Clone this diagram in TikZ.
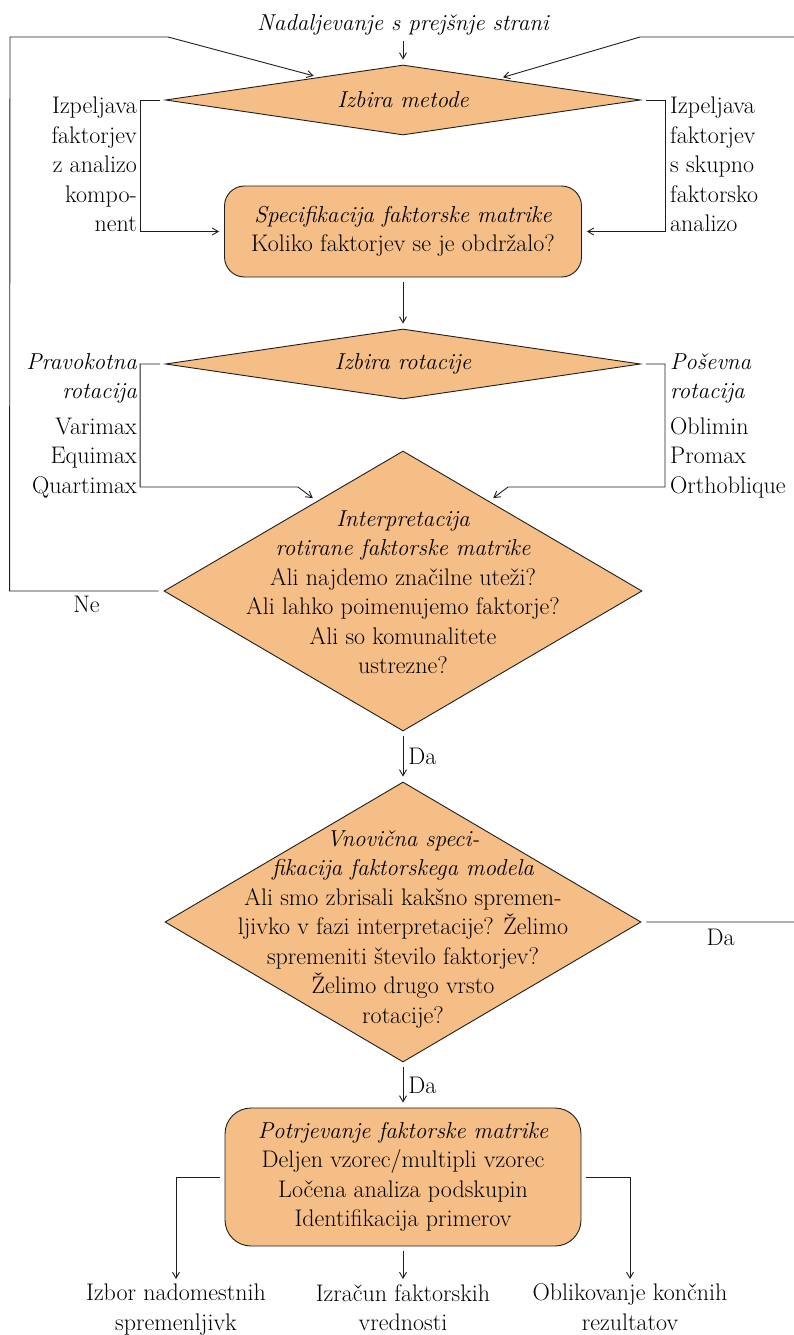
\documentclass[tikz,border=0pt]{standalone}
\usepackage{fontspec}
\usepackage{tikz}
\usetikzlibrary{positioning,arrows.meta,calc,shapes.geometric}
\definecolor{orng}{HTML}{F5BE86}
\definecolor{lin}{HTML}{1E1E1E}
\newcommand{\fs}{\fontsize{24}{29.5}\selectfont}
\newcommand{\ix}[1]{{\fontsize{23}{29.5}\selectfont\itshape #1}}

\tikzset{
  txt/.style={font=\fs, inner sep=0pt},
  dia/.style={diamond, draw=lin, fill=orng, line width=0.9pt, inner sep=0pt, aspect=6.8},
  bigdia/.style={diamond, draw=lin, fill=orng, line width=0.9pt, inner sep=0pt},
  rbox/.style={rectangle, rounded corners=20pt, draw=lin, fill=orng, line width=0.9pt, align=center, inner sep=0pt},
  con/.style={draw=lin, line width=0.9pt, shorten <=5pt},
  arr/.style={con, -{Straight Barb[length=6pt,width=7pt]}, shorten >=5pt},
}

\begin{document}
\begin{tikzpicture}[x=1pt,y=-1pt]
  \useasboundingbox (0,0) rectangle (794,1335);

  % main column
  \node[txt] (start) at (403,25) {\ix{Nadaljevanje s prejšnje strani}};
  \node[dia, txt, minimum width=475, minimum height=70] (metode) at (403,100) {\ix{Izbira metode}};
  \node[rbox, txt, minimum width=357, minimum height=91] (spec) at (403,231.5)
    {\ix{Specifikacija faktorske matrike}\\Koliko faktorjev se je obdržalo?};
  \node[dia, txt, minimum width=475, minimum height=70] (rotac) at (403,364) {\ix{Izbira rotacije}};
  \node[bigdia, minimum width=478, minimum height=280] (interp) at (403,591) {};
  \node[txt, align=center] (interp-t) at (403,592)
    {\ix{Interpretacija}\\\ix{rotirane faktorske matrike}\\Ali najdemo značilne uteži?\\Ali lahko poimenujemo faktorje?\\Ali so komunalitete\\ustrezne?};
  \node[bigdia, minimum width=476, minimum height=280] (respec) at (403,922) {};
  \node[txt, align=center] (respec-t) at (403,929)
    {\ix{Vnovična speci-}\\\ix{fikacija faktorskega modela}\\Ali smo zbrisali kakšno spremen-\\ljivko v fazi interpretacije? Želimo\\spremeniti število faktorjev?\\Želimo drugo vrsto\\rotacije?};
  \node[rbox, txt, rounded corners=26pt, minimum width=356, minimum height=138] (potrj) at (403,1177)
    {\ix{Potrjevanje faktorske matrike}\\Deljen vzorec/multipli vzorec\\Ločena analiza podskupin\\Identifikacija primerov};

  % side labels
  \node[txt, align=right, anchor=north east] (pca) at (137,97) {Izpeljava\\faktorjev\\z analizo\\kompo-\\nent};
  \node[txt, align=left, anchor=north west] (fa) at (670,97) {Izpeljava\\faktorjev\\s skupno\\faktorsko\\analizo};
  \node[txt, align=right, anchor=north east] (orto) at (137,353)
    {\ix{Pravokotna}\\\ix{rotacija}\\[6pt]Varimax\\Equimax\\Quartimax};
  \node[txt, align=left, anchor=north west] (posev) at (670,353)
    {\ix{Poševna}\\\ix{rotacija}\\[6pt]Oblimin\\Promax\\Orthoblique};

  % outputs
  \node[txt, align=center, anchor=north] (izbor) at (176,1284) {Izbor nadomestnih\\spremenljivk};
  \node[txt, align=center, anchor=north] (izracun) at (403,1284) {Izračun faktorskih\\vrednosti};
  \node[txt, align=center, anchor=north] (oblik) at (630,1284) {Oblikovanje končnih\\rezultatov};

  % connectors
  \draw[arr] (start.south) -- (metode.north);
  \draw[arr] (metode.west) -- ++(-25,0) |- (spec.west);
  \draw[arr] (metode.east) -- ++(24,0) |- (spec.east);
  \draw[arr] (spec.south) -- (rotac.north);
  \draw[arr] (rotac.west) -- ++(-25,0) |- (298,487) -- ($(interp.west)!0.64!(interp.north)$);
  \draw[arr] (rotac.east) -- ++(24,0) |- (508,487) -- ($(interp.east)!0.64!(interp.north)$);
  \draw[arr] (interp.west) -- ++(-154,0) node[txt, midway, below=5pt] (ne) {Ne}
    -- (10,37) -- (168,37) -- ($(metode.west)!0.645!(metode.north)$);
  \draw[arr] (interp.south) -- (respec.north) node[txt, midway, right=5pt] (da1) {Da};
  \draw[arr] (respec.east) -- (800,922) node[txt, pos=0.5, below=7pt] (da3) {Da}
    -- (800,37) -- (640,37) -- ($(metode.east)!0.6!(metode.north)$);
  \draw[arr] (respec.south) -- (potrj.north) node[txt, midway, right=5pt] (da2) {Da};
  \draw[arr] (potrj.west) -| (izbor.north);
  \draw[arr] (potrj.south) -- (izracun.north);
  \draw[arr] (potrj.east) -| (oblik.north);
\end{tikzpicture}
\end{document}
